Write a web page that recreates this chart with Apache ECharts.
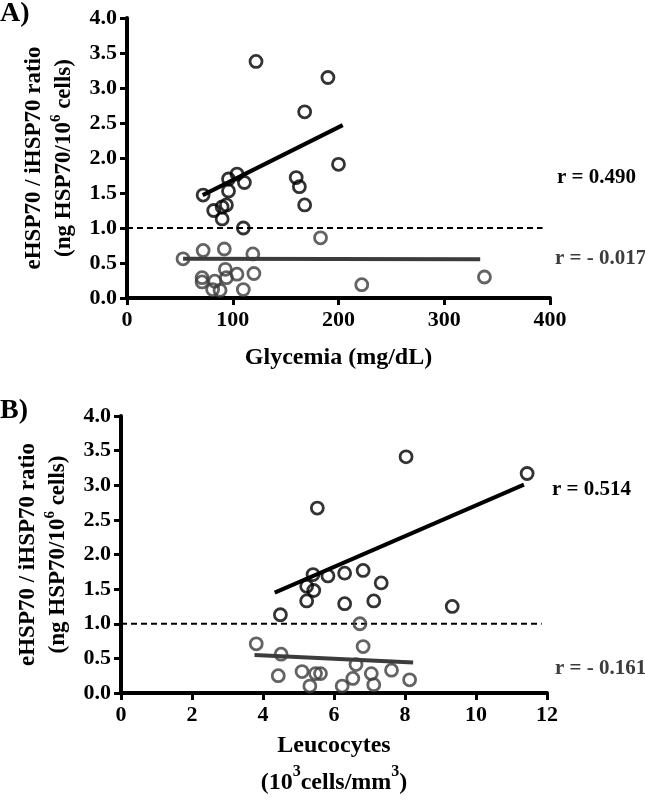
<!DOCTYPE html>
<html><head><meta charset="utf-8">
<script src="https://cdn.jsdelivr.net/npm/echarts@6/dist/echarts.min.js"></script>
<style>html,body{margin:0;padding:0;background:#fff}#c{width:645px;height:802px}</style>
</head><body><div id="c"></div>
<script>
// Panel A: Glycemia
var glyUpperX = [122, 190, 168, 200, 72, 96, 104, 111, 96, 94, 90, 82, 90, 110, 160, 163, 168];
var glyUpperY = [3.38, 3.15, 2.66, 1.91, 1.47, 1.70, 1.77, 1.65, 1.53, 1.33, 1.30, 1.25, 1.13, 1.00, 1.72, 1.59, 1.33];
var glyLowerX = [183, 53, 72, 92, 119, 71, 71, 83, 93, 94, 104, 120, 81, 88, 110, 222, 338];
var glyLowerY = [0.86, 0.56, 0.68, 0.70, 0.63, 0.29, 0.23, 0.24, 0.41, 0.29, 0.34, 0.35, 0.12, 0.11, 0.12, 0.19, 0.30];
var glyFitUpper = [[71.6, 1.47], [204, 2.47]];
var glyFitLower = [[53, 0.56], [334, 0.555]];
var glyRef = [[0, 1], [393, 1]];
var glyTicks = {min: 0, max: 400, interval: 100};
var rA = ['r = 0.490', 'r = - 0.017'];

// Panel B: Leucocytes
var leuUpperX = [8.03, 11.44, 5.53, 4.49, 5.41, 5.83, 6.30, 6.82, 7.33, 5.23, 5.43, 5.23, 6.30, 7.12, 9.33];
var leuUpperY = [3.41, 3.17, 2.67, 1.13, 1.71, 1.69, 1.73, 1.77, 1.59, 1.54, 1.48, 1.33, 1.29, 1.33, 1.25];
var leuLowerX = [6.73, 3.81, 4.51, 6.82, 6.62, 4.43, 5.10, 5.48, 5.62, 5.32, 6.23, 6.53, 7.05, 7.12, 7.62, 8.13];
var leuLowerY = [1.00, 0.71, 0.56, 0.67, 0.41, 0.25, 0.31, 0.28, 0.28, 0.10, 0.10, 0.21, 0.28, 0.12, 0.33, 0.19];
var leuFitUpper = [[4.33, 1.45], [11.35, 3.01]];
var leuFitLower = [[3.76, 0.55], [8.23, 0.44]];
var leuRef = [[0, 1], [11.85, 1]];
var leuTicks = {min: 0, max: 12, interval: 2};
var rB = ['r = 0.514', 'r = - 0.161'];

var yTicks = {min: 0, max: 4, interval: 0.5};

var FF = '"Liberation Serif", "Times New Roman", serif';
var BLACK = '#000', GREY = '#3c3c3c';

function zip(xs, ys) { return xs.map(function (x, i) { return [x, ys[i]]; }); }

var yName = '{t|eHSP70 / iHSP70 ratio}\n{t|(ng HSP70/10}{s|6}{t| cells)}';
var richBase = {
  t: {fontFamily: FF, fontWeight: 'bold', fontSize: 23, lineHeight: 30, color: BLACK},
  s: {fontFamily: FF, fontWeight: 'bold', fontSize: 15, lineHeight: 14, verticalAlign: 'top', color: BLACK}
};

function xAxis(idx, t, name, gap, lh) {
  return {
    type: 'value', gridIndex: idx, min: t.min, max: t.max, interval: t.interval,
    name: name, nameLocation: 'middle', nameGap: gap,
    nameTextStyle: {fontFamily: FF, fontWeight: 'bold', fontSize: 24, color: BLACK, lineHeight: lh,
      rich: {
        t: {fontFamily: FF, fontWeight: 'bold', fontSize: 24, lineHeight: lh, color: BLACK},
        s: {fontFamily: FF, fontWeight: 'bold', fontSize: 16, lineHeight: 16, verticalAlign: 'top', color: BLACK}
      }},
    axisLine: {onZero: false, lineStyle: {color: BLACK, width: 4}},
    axisTick: {show: true, inside: false, length: 7, lineStyle: {color: BLACK, width: 3}},
    axisLabel: {fontFamily: FF, fontWeight: 'bold', fontSize: 22, color: BLACK, margin: 11},
    splitLine: {show: false}
  };
}
function yAxis(idx, gap) {
  return {
    type: 'value', gridIndex: idx, min: yTicks.min, max: yTicks.max, interval: yTicks.interval,
    name: yName, nameLocation: 'middle', nameRotate: 90, nameGap: gap,
    nameTextStyle: {fontFamily: FF, fontWeight: 'bold', fontSize: 23, lineHeight: 30, color: BLACK, rich: richBase},
    axisLine: {show: true, onZero: false, lineStyle: {color: BLACK, width: 4}},
    axisTick: {show: true, inside: false, length: 7, lineStyle: {color: BLACK, width: 3}},
    axisLabel: {fontFamily: FF, fontWeight: 'bold', fontSize: 22, color: BLACK, margin: 10,
      formatter: function (v) { return v.toFixed(1); }},
    splitLine: {show: false}
  };
}
function scatter(idx, data, color) {
  return {type: 'scatter', xAxisIndex: idx, yAxisIndex: idx, data: data, symbol: 'circle', symbolSize: 12, z: 5,
    itemStyle: {color: 'rgba(255,255,255,0)', borderColor: color, borderWidth: 2.8}, silent: true};
}
function fit(idx, data, color, w, dash) {
  return {type: 'line', xAxisIndex: idx, yAxisIndex: idx, data: data, symbol: 'none', z: 3, silent: true,
    lineStyle: {color: color, width: w, type: dash ? [6, 4] : 'solid'}};
}

var chart = echarts.init(document.getElementById('c'), null, {renderer: 'canvas'});
chart.setOption({
  animation: false,
  backgroundColor: '#fff',
  grid: [
    {left: 127, top: 18, width: 423, height: 280},
    {left: 121, top: 416, width: 426, height: 282}
  ],
  xAxis: [
    xAxis(0, glyTicks, 'Glycemia (mg/dL)', 45, 30),
    xAxis(1, leuTicks, '{t|Leucocytes}\n{t|(10}{s|3}{t|cells/mm}{s|3}{t|)}', 34, 37)
  ],
  yAxis: [yAxis(0, 37), yAxis(1, 37)],
  series: [
    fit(0, glyRef, BLACK, 2, true),
    fit(0, glyFitUpper, BLACK, 4, false),
    fit(0, glyFitLower, GREY, 4, false),
    scatter(0, zip(glyUpperX, glyUpperY), BLACK),
    scatter(0, zip(glyLowerX, glyLowerY), GREY),
    fit(1, leuRef, BLACK, 2, true),
    fit(1, leuFitUpper, BLACK, 4, false),
    fit(1, leuFitLower, GREY, 4, false),
    scatter(1, zip(leuUpperX, leuUpperY), BLACK),
    scatter(1, zip(leuLowerX, leuLowerY), GREY)
  ],
  graphic: [
    {type: 'text', left: 0, top: 0, style: {text: 'A)', font: 'bold 28px ' + FF, fill: BLACK}},
    {type: 'text', left: 0, top: 397, style: {text: 'B)', font: 'bold 28px ' + FF, fill: BLACK}},
    {type: 'text', left: 557, top: 167, style: {text: rA[0], font: 'bold 21px ' + FF, fill: BLACK}},
    {type: 'text', left: 555, top: 248, style: {text: rA[1], font: 'bold 21px ' + FF, fill: GREY}},
    {type: 'text', left: 552, top: 479, style: {text: rB[0], font: 'bold 21px ' + FF, fill: BLACK}},
    {type: 'text', left: 555, top: 658, style: {text: rB[1], font: 'bold 21px ' + FF, fill: GREY}}
  ]
});
</script></body></html>
